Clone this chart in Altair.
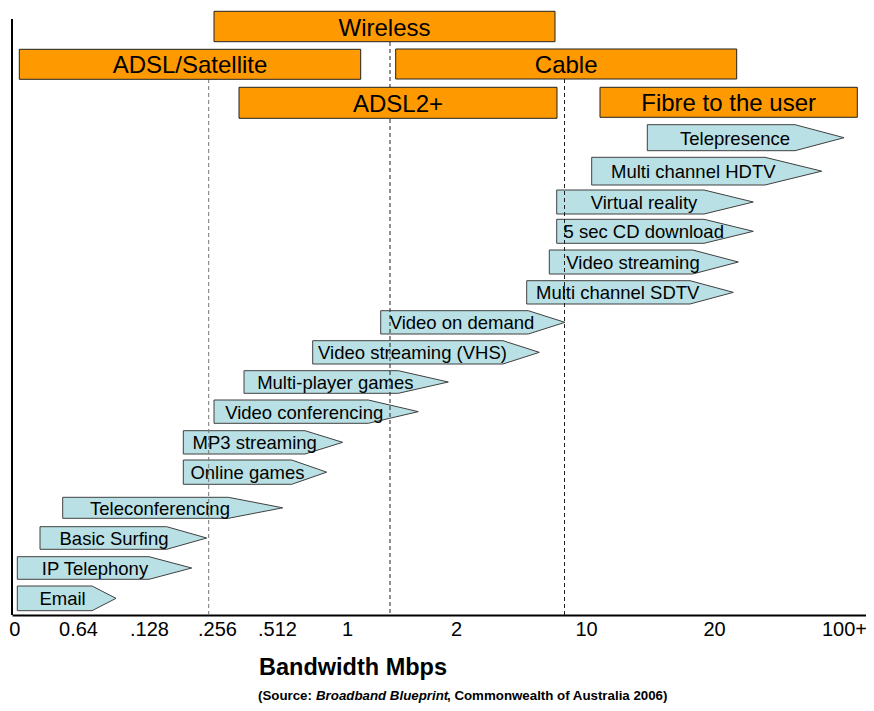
import altair as alt
import pandas as pd

# ---- Data (diagram units on the bandwidth axis / row positions) ----
arrow_names = ["Email", "IP Telephony", "Basic Surfing", "Teleconferencing",
               "Online games", "MP3 streaming", "Video conferencing",
               "Multi-player games", "Video streaming (VHS)", "Video on demand",
               "Multi channel SDTV", "Video streaming", "5 sec CD download",
               "Virtual reality", "Multi channel HDTV", "Telepresence"]
arrow_start = [17.3, 17.3, 40.0, 62.7, 183.3, 183.3, 214.0, 244.0, 312.7, 380.7,
               526.7, 549.3, 556.7, 556.7, 591.7, 647.3]
arrow_body_end = [92.0, 149.0, 166.7, 228.3, 291.7, 305.0, 368.3, 398.3, 503.0, 528.3,
                  690.0, 692.7, 704.0, 704.0, 765.0, 795.0]
arrow_tip = [116.0, 191.7, 206.7, 282.7, 326.7, 342.7, 418.3, 448.3, 539.3, 565.0,
             733.3, 738.3, 753.3, 753.3, 821.7, 844.0]
arrow_top = [586.0, 556.7, 526.7, 497.3, 460.0, 430.7, 400.0, 370.7, 340.7, 310.7,
             280.7, 250.0, 219.3, 190.0, 157.3, 124.7]
arrow_bottom = [610.7, 579.3, 549.3, 518.3, 484.3, 454.0, 423.3, 393.3, 364.0, 334.0,
                304.0, 274.0, 243.3, 214.0, 185.0, 150.7]
arrow_label_x = [62.5, 95.0, 114.0, 160.0, 247.5, 254.7, 304.2, 335.3, 412.5, 462.0,
                 617.7, 633.0, 643.7, 644.0, 693.3, 735.0]

tech_names = ["Wireless", "ADSL/Satellite", "Cable", "ADSL2+", "Fibre to the user"]
tech_start = [214.0, 19.3, 395.7, 239.0, 600.0]
tech_end = [555.0, 360.7, 736.7, 557.0, 857.3]
tech_top = [11.3, 49.3, 49.0, 87.3, 87.3]
tech_bottom = [41.7, 79.3, 79.0, 118.3, 117.3]

divider_x = [208.7, 390.0, 564.5]
divider_top = [79.0, 42.0, 79.0]
divider_color = ["#777777", "#222222", "#222222"]

tick_pos = [14.3, 78.0, 149.0, 217.0, 277.0, 347.0, 456.0, 586.0, 714.0, 844.0]
tick_labels = ["0", "0.64", ".128", ".256", ".512", "1", "2", "10", "20", "100+"]

source_parts = ["(Source: ", "Broadband Blueprint", ", Commonwealth of Australia 2006)"]

X_MIN, X_MAX = 12.0, 866.0
Y_MIN, Y_MAX = 11.0, 615.0

# ---- Tables ----
area_rows = []
for n, a, b, t, top, bot in zip(arrow_names, arrow_start, arrow_body_end, arrow_tip,
                                arrow_top, arrow_bottom):
    mid = (top + bot) / 2
    area_rows.append({"name": n, "x": a, "y": top, "y2": bot})
    area_rows.append({"name": n, "x": b, "y": top, "y2": bot})
    area_rows.append({"name": n, "x": t, "y": mid, "y2": mid})
area_df = pd.DataFrame(area_rows)

arrow_lab_df = pd.DataFrame({
    "name": arrow_names,
    "x": arrow_label_x,
    "y": [(a + b) / 2 for a, b in zip(arrow_top, arrow_bottom)],
})

tech_df = pd.DataFrame({
    "name": tech_names, "x": tech_start, "x2": tech_end,
    "y": tech_top, "y2": tech_bottom,
})
tech_df["cx"] = (tech_df["x"] + tech_df["x2"]) / 2
tech_df["cy"] = (tech_df["y"] + tech_df["y2"]) / 2

div_df = pd.DataFrame({"x": divider_x, "y": divider_top, "y2": [Y_MAX] * 3,
                       "c": divider_color})
vline_df = pd.DataFrame({"x": [X_MIN], "y": [19.0], "y2": [Y_MAX]})

# ---- Scales / axis ----
xs = alt.Scale(domain=[X_MIN, X_MAX], nice=False, zero=False)
ys = alt.Scale(domain=[Y_MIN, Y_MAX], nice=False, zero=False, reverse=True)

expr = "''"
for p, l in reversed(list(zip(tick_pos, tick_labels))):
    expr = f"datum.value == {p} ? '{l}' : ({expr})"

x_axis = alt.Axis(values=tick_pos, labelExpr=expr, ticks=False, tickSize=0, grid=False,
                  domain=True, domainColor="black", domainWidth=2,
                  labelFontSize=20, labelColor="black", labelFont="Liberation Sans",
                  labelPadding=14, labelBaseline="middle", labelFlush=False,
                  labelOverlap=False, labelAlign="center",
                  title="Bandwidth Mbps", titleFontSize=23.5, titleFontWeight="bold",
                  titleColor="black", titleFont="Liberation Sans",
                  titleX=340.5, titleY=59, titleAlign="center",
                  titleBaseline="alphabetic")

def X(field):
    return alt.X(field, type="quantitative", scale=xs, axis=x_axis)

def Y(field):
    return alt.Y(field, type="quantitative", scale=ys, axis=None)

arrows = alt.Chart(area_df).mark_area(
    fill="#B9E0E4", stroke="#404040", strokeWidth=1, fillOpacity=1, opacity=1
).encode(x=X("x"), y=Y("y"), y2="y2:Q", detail="name:N")

dividers = alt.Chart(div_df).mark_rule(strokeDash=[4, 3], strokeWidth=1).encode(
    x=X("x"), y=Y("y"), y2="y2:Q", color=alt.Color("c:N", scale=None))

vline = alt.Chart(vline_df).mark_rule(color="black", strokeWidth=2).encode(
    x=X("x"), y=Y("y"), y2="y2:Q")

arrow_text = alt.Chart(arrow_lab_df).mark_text(
    fontSize=18.5, baseline="middle", align="center", color="black",
    font="Liberation Sans", dy=1
).encode(x=X("x"), y=Y("y"), text="name:N")

techs = alt.Chart(tech_df).mark_rect(fill="#FF9900", stroke="#222222", strokeWidth=1).encode(
    x=X("x"), x2="x2:Q", y=Y("y"), y2="y2:Q")

tech_text = alt.Chart(tech_df).mark_text(
    fontSize=24, baseline="middle", align="center", color="black",
    font="Liberation Sans", dy=2
).encode(x=X("cx"), y=Y("cy"), text="name:N")

one = pd.DataFrame({"k": [0]})
SRC_Y = 689
src_common = dict(align="left", baseline="alphabetic", fontSize=13.3,
                  fontWeight="bold", color="black", font="Liberation Sans")
src1 = alt.Chart(one).mark_text(text=source_parts[0], **src_common).encode(
    x=alt.value(246), y=alt.value(SRC_Y))
src2 = alt.Chart(one).mark_text(text=source_parts[1], fontStyle="italic",
                                **src_common).encode(
    x=alt.value(304), y=alt.value(SRC_Y))
src3 = alt.Chart(one).mark_text(text=source_parts[2], **src_common).encode(
    x=alt.value(435), y=alt.value(SRC_Y))

chart = alt.layer(arrows, dividers, vline, arrow_text, techs, tech_text,
                  src1, src2, src3).properties(
    width=X_MAX - X_MIN, height=Y_MAX - Y_MIN,
    autosize=alt.AutoSizeParams(type="none"),
    padding={"left": 4, "top": 3, "right": 0, "bottom": 88},
).configure(font="Liberation Sans", background="white").configure_view(stroke=None)

chart.save("out.html", embed_options={"renderer": "svg", "actions": False})
